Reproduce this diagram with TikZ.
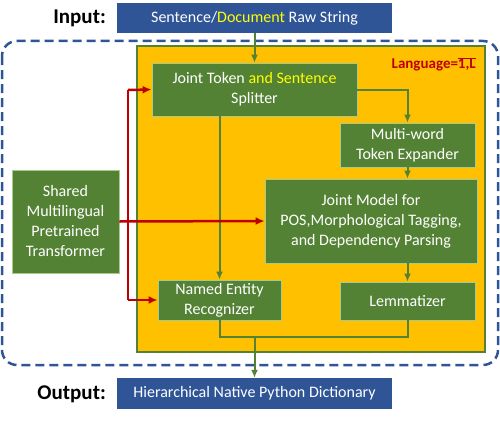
\documentclass[tikz,border=0pt]{standalone}
\usepackage{fontspec}
\setmainfont{Carlito}
\usepackage{tikz}
\usetikzlibrary{arrows.meta}
\definecolor{inblue}{HTML}{2F5597}
\definecolor{gold}{HTML}{FFC000}
\definecolor{leaf}{HTML}{548235}
\definecolor{leafline}{HTML}{A9C98E}
\definecolor{ruby}{HTML}{C00000}
\definecolor{yel}{HTML}{FFFF00}

\begin{document}
\begin{tikzpicture}[x=1pt, y=-1pt,
    every node/.style={inner sep=0pt, align=center},
    iobox/.style={fill=inblue, text=white, font=\fontsize{16}{20}\selectfont,
      minimum width=275, minimum height=30},
    gbox/.style={fill=leaf, draw=leafline, line width=0.8pt, text=white,
      font=\fontsize{16}{20}\selectfont},
    lbl/.style={font=\fontsize{21}{24}\selectfont\bfseries, anchor=east},
    flow/.style={leaf, line width=2pt},
    feed/.style={ruby, line width=2.5pt}]
    \useasboundingbox (0,0) rectangle (500,444);
    % frames
    \draw[inblue, line width=2.5pt, dash pattern=on 9pt off 5pt, rounded corners=15pt]
      (2,41) rectangle (498,365);
    \node[fill=gold, draw=leaf, line width=2.5pt, minimum width=348, minimum height=306]
      (lang) at (311,199) {};
    \node[anchor=north east, text=ruby, font=\fontsize{15}{18}\selectfont\bfseries]
      (langlbl) at (476,57) {Language=$\overline{\hbox{\bfseries 1,L}}$};
    % input / output
    \node[iobox] (in) at (254.5,18) {Sentence/\textcolor{yel}{Document} Raw String};
    \node[lbl] (inlbl) at (106,18) {Input:};
    \node[iobox, minimum height=31] (out) at (254.5,393.5) {Hierarchical Native Python Dictionary};
    \node[lbl] (outlbl) at (106,394) {Output:};
    % modules
    \node[gbox, minimum width=205, minimum height=53] (spl) at (254.5,89.5)
      {Joint Token \textcolor{yel}{and Sentence}\\Splitter};
    \node[gbox, minimum width=135, minimum height=44] (mwt) at (407.5,145)
      {Multi-word\\Token Expander};
    \node[gbox, minimum width=212, minimum height=84] (jm) at (371,221)
      {Joint Model for\\POS,Morphological Tagging,\\and Dependency Parsing};
    \node[gbox, minimum width=123, minimum height=40] (ner) at (219.5,300)
      {Named Entity\\Recognizer};
    \node[gbox, minimum width=135, minimum height=38] (lem) at (407.5,301)
      {Lemmatizer};
    \node[gbox, minimum width=107, minimum height=103] (tf) at (65.5,221.5)
      {Shared\\Multilingual\\Pretrained\\Transformer};
    \coordinate (join) at (254.5,337);
    \coordinate (rtop) at (128,90);
    \coordinate (rbot) at (128,300);
    % pipeline
    \path[flow, -{Latex[length=8pt, width=7pt]}]
      (in) edge (spl)
      (spl.south -| ner.north) edge (ner.north)
      (mwt.south) edge (mwt.south |- jm.north)
      (jm.south -| lem.north) edge (lem.north)
      (join) edge (out.north);
    \draw[flow, -{Latex[length=8pt, width=7pt]}] (spl.east) -| (mwt.north);
    \draw[flow] (ner.south) |- (join) -| (lem.south);
    % shared encoder
    \draw[feed] (rtop) -- (rbot);
    \path[feed, -{Latex[length=9pt, width=8pt]}]
      (tf.east) edge (jm.west)
      (rtop) edge (spl.west)
      (rbot) edge (ner.west);
\end{tikzpicture}
\end{document}
